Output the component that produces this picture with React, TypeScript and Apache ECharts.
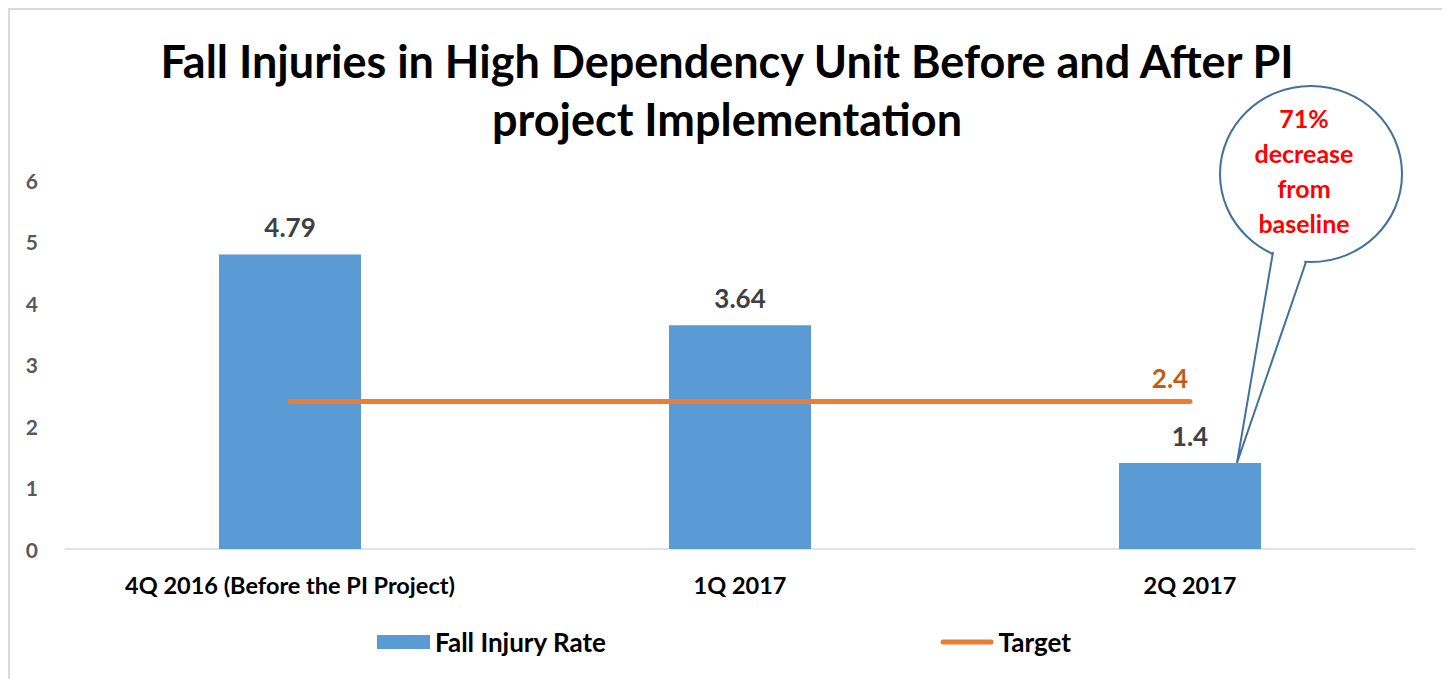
import React, { useEffect, useRef } from "react";
import * as echarts from "echarts";

const titleLines = ["Fall Injuries in High Dependency Unit Before and After PI", "project Implementation"];
const categories = ["4Q 2016 (Before the PI Project)", "1Q 2017", "2Q 2017"];
const fallInjuryRate = [4.79, 3.64, 1.4];
const target = [2.4, 2.4, 2.4];
const calloutLines = ["71%", "decrease", "from", "baseline"];
const FONT = "Lato";

export default function App() {
  const ref = useRef<HTMLDivElement>(null);
  useEffect(() => {
    if (!ref.current) return;
    const chart = echarts.init(ref.current, null, { renderer: "svg" });
    chart.setOption({
      animation: false,
      textStyle: { fontFamily: FONT },
      title: {
        text: titleLines.join("\n"),
        left: "center",
        top: 17,
        textStyle: { fontFamily: FONT, fontWeight: "bold", fontSize: 45, lineHeight: 58, color: "#000" },
      },
      grid: { left: 55, right: 29, top: 170, bottom: 157 },
      legend: {
        bottom: 46,
        left: 362,
        itemWidth: 53,
        itemHeight: 14,
        itemGap: 334,
        textStyle: { fontFamily: FONT, fontWeight: "bold", fontSize: 26, color: "#000" },
        data: [
          { name: "Fall Injury Rate", icon: "rect" },
          { name: "Target", icon: "path://M2.5,0 L50.5,0 A2.5,2.5 0 0 1 50.5,5 L2.5,5 A2.5,2.5 0 0 1 2.5,0 Z" },
        ],
      },
      xAxis: {
        type: "category",
        data: categories,
        axisLine: { lineStyle: { color: "#d9d9d9", width: 1.5 } },
        axisTick: { show: false },
        axisLabel: { fontFamily: FONT, fontWeight: "bold", fontSize: 23.5, color: "#000", margin: 24 },
      },
      yAxis: {
        type: "value",
        min: 0,
        max: 6,
        interval: 1,
        splitLine: { show: false },
        axisLine: { show: false },
        axisLabel: { fontFamily: FONT, fontWeight: "bold", fontSize: 21, color: "#595959", margin: 27 },
      },
      series: [
        {
          name: "Fall Injury Rate",
          type: "bar",
          data: fallInjuryRate,
          barWidth: 142,
          itemStyle: { color: "#5b9bd5" },
          label: {
            show: true,
            position: "top",
            distance: 14,
            fontFamily: FONT,
            fontWeight: "bold",
            fontSize: 26,
            color: "#404040",
          },
        },
        {
          name: "Target",
          type: "line",
          data: target.map((v, i) =>
            i === target.length - 1
              ? {
                  value: v,
                  label: {
                    show: true,
                    position: "top",
                    distance: 10,
                    offset: [-20, 0],
                    fontFamily: FONT,
                    fontWeight: "bold",
                    fontSize: 26,
                    color: "#c55a11",
                  },
                }
              : v
          ),
          symbol: "circle",
          symbolSize: 1,
          showSymbol: true,
          lineStyle: { color: "#ed7d31", width: 5, cap: "round" },
          itemStyle: { color: "#ed7d31" },
          z: 3,
        },
      ],
    });

    const tip = chart.convertToPixel({ seriesIndex: 0 }, [2, fallInjuryRate[2]]) as number[];
    const tipX = tip[0] + 47;
    const tipY = tip[1];
    const cx = 1301, cy = 164, rx = 91, ry = 88;
    const tl = [1263, 242];
    const tr = [1296, 252];
    const stroke = "#41719c";
    chart.setOption({
      graphic: [
        {
          type: "ellipse",
          shape: { cx, cy, rx, ry },
          style: { fill: "#fff", stroke, lineWidth: 2 },
          z: 10,
        },
        {
          type: "polygon",
          shape: { points: [[tl[0] + 1, tl[1] - 3], [tr[0] - 1, tr[1] - 3], [tipX, tipY]] },
          style: { fill: "#fff", stroke: "none" },
          z: 11,
        },
        {
          type: "polyline",
          shape: { points: [tl, [tipX, tipY], tr] },
          style: { fill: "none", stroke, lineWidth: 2 },
          z: 12,
        },
        ...calloutLines.map((t, i) => ({
          type: "text",
          x: cx - 7,
          y: 108 + i * 35,
          style: {
            text: t,
            fill: "#ff0000",
            font: `bold 25px ${FONT}`,
            align: "center",
            verticalAlign: "middle",
          },
          z: 13,
        })),
      ],
    });
    return () => chart.dispose();
  }, []);
  return (
    <div style={{ width: 1438, height: 700, border: "2px solid #d9d9d9", boxSizing: "border-box" }}>
      <div ref={ref} style={{ width: 1434, height: 696 }} />
    </div>
  );
}
